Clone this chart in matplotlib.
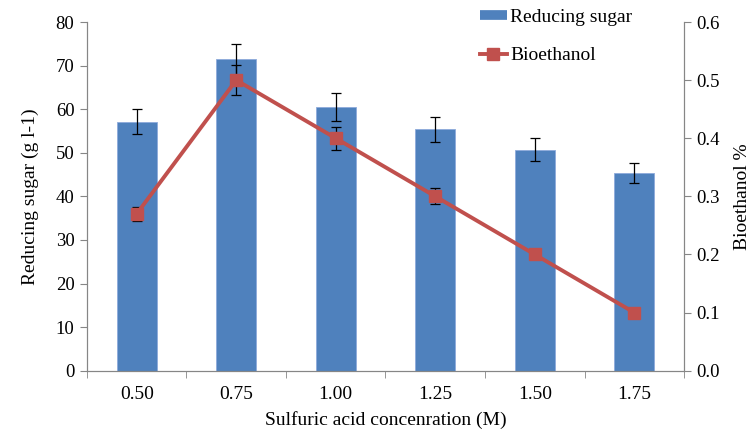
"""Reducing sugar (bars) and bioethanol (line) vs sulfuric acid concentration."""
import matplotlib
matplotlib.use("Agg")
import matplotlib.pyplot as plt
from matplotlib.lines import Line2D
import numpy as np

plt.rcParams["font.family"] = ["Liberation Serif", "DejaVu Serif"]

concentrations = ["0.50", "0.75", "1.00", "1.25", "1.50", "1.75"]
sugar = [57.1, 71.4, 60.5, 55.4, 50.7, 45.3]
sugar_err = [2.9, 3.5, 3.1, 2.9, 2.6, 2.3]
ethanol = [0.27, 0.50, 0.40, 0.30, 0.20, 0.10]
ethanol_err = [0.012, 0.026, 0.02, 0.014, 0.006, 0.0]

BLUE = "#4F81BD"
RED = "#C0504D"
GREY = "#868686"

fig = plt.figure(figsize=(7.53, 4.30), dpi=100)
ax = fig.add_axes([0.1155, 0.1379, 0.7929, 0.8109])
x = np.arange(len(concentrations))

# ── Bars ──────────────────────────────────────────────────────────────
ax.bar(x, sugar, width=0.4, color=BLUE, edgecolor="#8EAADB", linewidth=0.6, zorder=2)
ax.errorbar(x, sugar, yerr=sugar_err, fmt="none", ecolor="black",
            elinewidth=0.9, capsize=3.4, capthick=0.9, zorder=3)
ax.set_xlim(-0.5, len(x) - 0.5)
ax.set_ylim(0, 80)
ax.set_yticks(np.arange(0, 81, 10))
ax.set_xticks(x)
ax.set_xticklabels(concentrations, fontsize=14)
ax.set_xticks(np.arange(-0.5, len(x), 1), minor=True)
ax.tick_params(axis="x", which="major", length=0, pad=11)
ax.tick_params(axis="x", which="minor", length=5, color=GREY, direction="out")
ax.tick_params(axis="y", length=5, color=GREY, labelsize=13.5, pad=4)
ax.set_ylabel("Reducing sugar (g l-1)", fontsize=14, labelpad=12)
ax.set_xlabel("Sulfuric acid concenration (M)", fontsize=14, labelpad=6)
for side in ["left", "bottom", "right"]:
    ax.spines[side].set_color(GREY)
ax.spines["top"].set_visible(False)

# ── Line on secondary axis ────────────────────────────────────────────
ax2 = ax.twinx()
ax2.errorbar(x, ethanol, yerr=ethanol_err, fmt="none", ecolor="black",
             elinewidth=0.9, capsize=3.4, capthick=0.9, zorder=2)
ax2.plot(x, ethanol, color=RED, lw=2.8, marker="s", markersize=8, zorder=3)
ax2.set_ylim(0, 0.6)
ax2.set_yticks(np.arange(0, 0.61, 0.1))
ax2.set_yticklabels([f"{v:.1f}" for v in np.arange(0, 0.61, 0.1)])
ax2.tick_params(axis="y", length=5, color=GREY, labelsize=13.5, pad=4)
ax2.set_ylabel("Bioethanol %", fontsize=14, labelpad=10)
for side in ["left", "bottom", "right"]:
    ax2.spines[side].set_color(GREY)
ax2.spines["top"].set_visible(False)

# ── Legend ────────────────────────────────────────────────────────────
handles = [
    Line2D([], [], color=BLUE, lw=7, solid_capstyle="butt"),
    Line2D([], [], color=RED, lw=2.8, marker="s", markersize=8),
]
fig.legend(handles, ["Reducing sugar", "Bioethanol"], loc="upper left",
           bbox_to_anchor=(0.632, 0.99), frameon=False, fontsize=14,
           handlelength=1.4, handletextpad=0.15, labelspacing=1.08,
           borderaxespad=0.0, borderpad=0.2)

fig.savefig("out.png", dpi=100)
plt.close(fig)
